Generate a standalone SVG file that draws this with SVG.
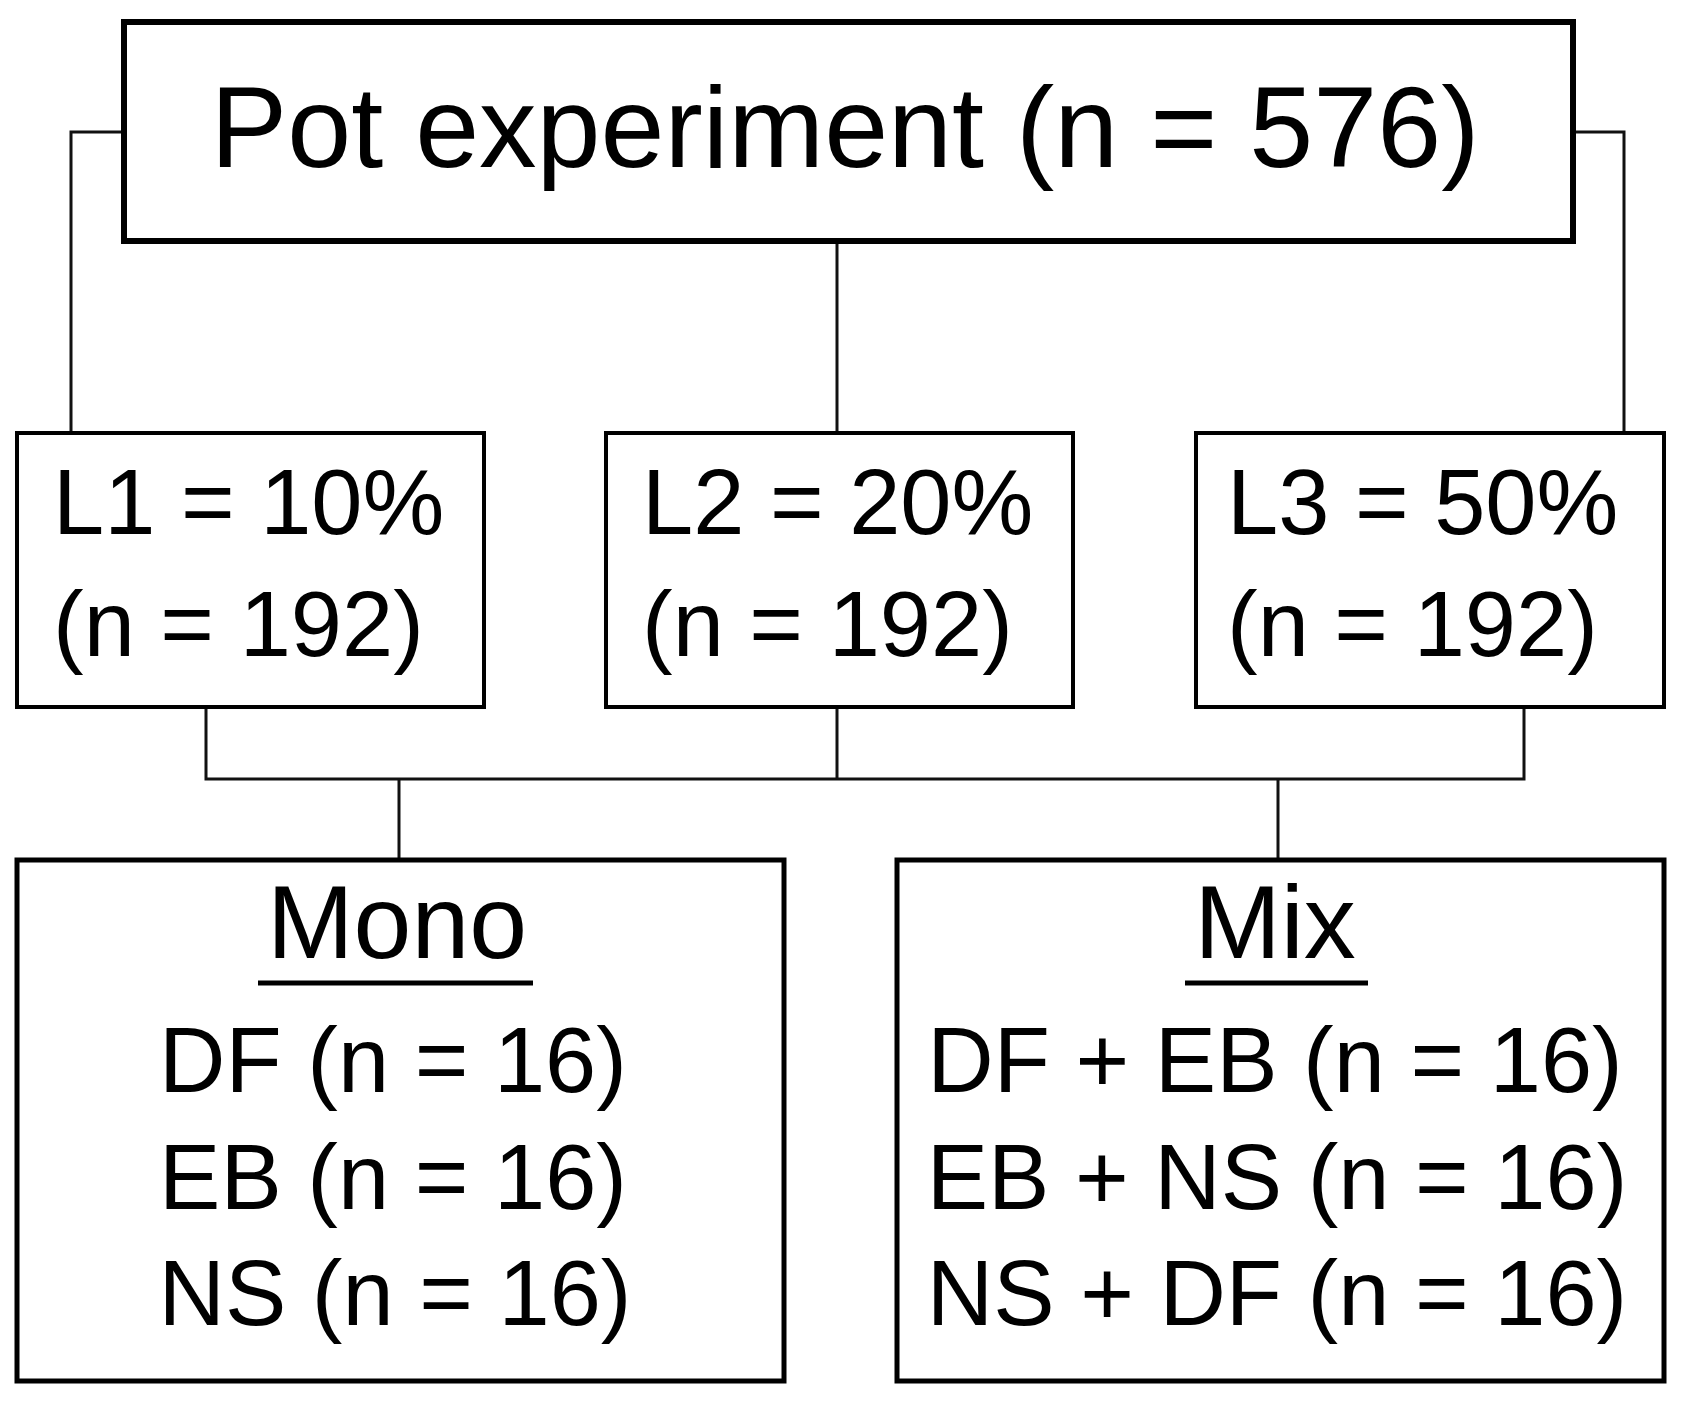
<svg xmlns="http://www.w3.org/2000/svg" width="1682" height="1404" viewBox="0 0 1682 1404">
<style>
.box{fill:#fff;stroke:#000;}
.t{font-family:"Liberation Sans",Arial,Helvetica,sans-serif;fill:#000;}
.conn{fill:none;stroke:#111;stroke-width:3;}
</style>
<rect width="1682" height="1404" fill="#fff"/>
<g id="connectors" class="conn">
<polyline points="123,132 71,132 71,432"/>
<polyline points="1574,132 1624,132 1624,432"/>
<line x1="837" y1="242" x2="837" y2="432"/>
<polyline points="206,708 206,779 1524,779 1524,708"/>
<line x1="837" y1="708" x2="837" y2="779"/>
<line x1="399" y1="779" x2="399" y2="858"/>
<line x1="1278" y1="779" x2="1278" y2="858"/>
</g>
<g id="pot">
<rect class="box" x="124" y="22" width="1449" height="219" stroke-width="6"/>
<text class="t" x="845" y="167" font-size="115" text-anchor="middle">Pot experiment (n = 576)</text>
</g>
<g id="l1">
<rect class="box" x="17" y="433" width="467" height="274" stroke-width="4"/>
<text class="t" x="53" y="534" font-size="92">L1 = 10%</text>
<text class="t" x="53" y="656" font-size="92">(n = 192)</text>
</g>
<g id="l2">
<rect class="box" x="606" y="433" width="467" height="274" stroke-width="4"/>
<text class="t" x="642" y="534" font-size="92">L2 = 20%</text>
<text class="t" x="642" y="656" font-size="92">(n = 192)</text>
</g>
<g id="l3">
<rect class="box" x="1196" y="433" width="468" height="274" stroke-width="4"/>
<text class="t" x="1227" y="534" font-size="92">L3 = 50%</text>
<text class="t" x="1227" y="656" font-size="92">(n = 192)</text>
</g>
<g id="mono">
<rect class="box" x="17" y="860" width="767" height="521" stroke-width="5"/>
<text class="t" x="397" y="958" font-size="104" text-anchor="middle">Mono</text>
<line x1="258" y1="983" x2="533" y2="983" stroke="#000" stroke-width="5"/>
<text class="t" x="393" y="1092" font-size="92" text-anchor="middle">DF (n = 16)</text>
<text class="t" x="393" y="1209" font-size="92" text-anchor="middle">EB (n = 16)</text>
<text class="t" x="395" y="1325" font-size="92" text-anchor="middle">NS (n = 16)</text>
</g>
<g id="mix">
<rect class="box" x="897" y="860" width="767" height="521" stroke-width="5"/>
<text class="t" x="1275" y="958" font-size="104" text-anchor="middle">Mix</text>
<line x1="1185" y1="983" x2="1368" y2="983" stroke="#000" stroke-width="5"/>
<text class="t" x="1275" y="1092" font-size="92" text-anchor="middle">DF + EB (n = 16)</text>
<text class="t" x="1277" y="1209" font-size="92" text-anchor="middle">EB + NS (n = 16)</text>
<text class="t" x="1277" y="1325" font-size="92" text-anchor="middle">NS + DF (n = 16)</text>
</g>
</svg>
